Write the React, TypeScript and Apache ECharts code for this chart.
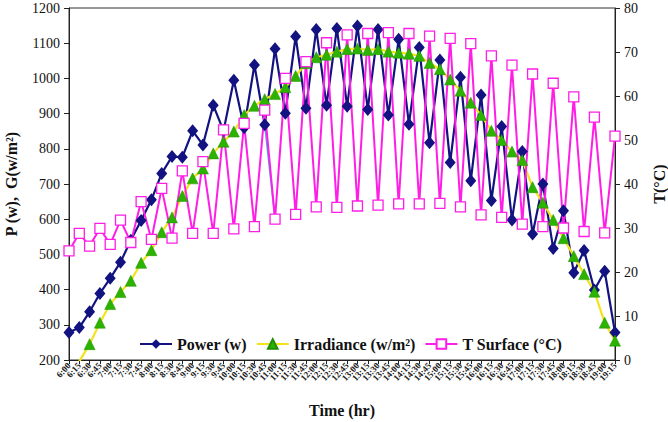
import React, { useEffect, useRef } from "react";
import * as echarts from "echarts";

// Time of day (15-minute readings)
const timeLabels = [
  "6:00", "6:15", "6:30", "6:45", "7:00", "7:15", "7:30", "7:45",
  "8:00", "8:15", "8:30", "8:45", "9:00", "9:15", "9:30", "9:45",
  "10:00", "10:15", "10:30", "10:45", "11:00", "11:15", "11:30", "11:45",
  "12:00", "12:15", "12:30", "12:45", "13:00", "13:15", "13:30", "13:45",
  "14:00", "14:15", "14:30", "14:45", "15:00", "15:15", "15:30", "15:45",
  "16:00", "16:15", "16:30", "16:45", "17:00", "17:15", "17:30", "17:45",
  "18:00", "18:15", "18:30", "18:45", "19:00", "19:15",
];

// Output power (W)
const power = [
  278, 292, 337, 389, 432, 478, 540, 596, 655, 730, 778, 776, 851, 811,
  924, 851, 995, 860, 1038, 868, 1084, 901, 1119, 915, 1139, 924, 1142, 921,
  1149, 912, 1139, 896, 1111, 870, 1088, 817, 1052, 761, 1003, 709, 953, 653,
  863, 598, 792, 558, 700, 517, 624, 448, 511, 399, 452, 278,
];

// Solar irradiance (W/m²)
const irradiance = [
  150, 196, 245, 306, 359, 393, 425, 476, 512, 563, 605, 666, 716, 744,
  787, 820, 849, 896, 922, 941, 956, 975, 1007, 1043, 1060, 1067, 1076, 1083,
  1085, 1081, 1083, 1076, 1073, 1070, 1064, 1044, 1026, 997, 965, 931, 896, 851,
  825, 792, 768, 691, 647, 598, 546, 495, 444, 394, 306, 255,
];

// Panel surface temperature (°C)
const surfaceTemp = [
  24.8, 28.8, 25.9, 29.9, 26.3, 31.8, 26.7, 36.0, 27.4, 39.0, 27.7, 43.0,
  28.8, 45.1, 28.8, 52.3, 29.8, 53.8, 30.3, 56.8, 32.0, 64.0, 33.1, 67.8,
  34.8, 72.1, 34.7, 73.9, 35.0, 74.2, 35.2, 74.4, 35.5, 74.2, 35.5, 73.6,
  35.6, 73.1, 34.8, 71.9, 33.0, 69.1, 32.4, 67.0, 30.9, 65.0, 30.3, 62.9,
  30.0, 59.8, 29.2, 55.2, 28.9, 50.9,
];

// Stray trace segment between 10:45 and 11:00
const strayTrace = timeLabels.map((_, i) => (i === 19 ? 868 : i === 20 ? 600 : null));

const SERIF = "'Liberation Serif', 'DejaVu Serif', serif";

const plain = (v: number) => String(v);

export default function App() {
  const ref = useRef<HTMLDivElement>(null);

  useEffect(() => {
    if (!ref.current) return;
    const chart = echarts.init(ref.current, null, { renderer: "svg" });
    chart.setOption({
      animation: false,
      backgroundColor: "#ffffff",
      grid: {
        left: 69,
        right: 53,
        top: 8,
        bottom: 62,
        outerBoundsMode: "none",
        containLabel: false,
        show: true,
        borderColor: "#333",
        borderWidth: 1,
        backgroundColor: "transparent",
      },
      legend: {
        left: 134,
        top: 331,
        itemWidth: 32,
        itemHeight: 12,
        itemGap: 9,
        textStyle: {
          fontFamily: SERIF,
          fontWeight: "bold",
          fontSize: 16,
          color: "#111",
        },
        data: ["Power (w)", "Irradiance (w/m²)", "T Surface (°C)"],
      },
      xAxis: {
        type: "category",
        data: timeLabels,
        boundaryGap: false,
        name: "Time (hr)",
        nameLocation: "middle",
        nameGap: 42,
        nameTextStyle: {
          fontFamily: SERIF,
          fontWeight: "bold",
          fontSize: 16,
          color: "#111",
        },
        axisLine: { lineStyle: { color: "#222", width: 1 } },
        axisTick: { alignWithLabel: true, length: 4, lineStyle: { color: "#222" } },
        axisLabel: {
          interval: 0,
          rotate: 48,
          fontSize: 9,
          fontWeight: "bold",
          fontFamily: SERIF,
          color: "#222",
          margin: 4,
        },
        splitLine: { show: false },
      },
      yAxis: [
        {
          type: "value",
          min: 200,
          max: 1200,
          interval: 100,
          name: "P (w),  G(w/m²)",
          nameLocation: "middle",
          nameGap: 50,
          nameRotate: 90,
          nameTextStyle: {
            fontFamily: SERIF,
            fontWeight: "bold",
            fontSize: 16,
            color: "#111",
          },
          axisLine: { show: true, lineStyle: { color: "#222" } },
          axisTick: { show: true, length: 5, lineStyle: { color: "#222" } },
          axisLabel: {
            fontFamily: SERIF,
            fontSize: 14,
            color: "#111",
            margin: 9,
            formatter: plain,
          },
          splitLine: { show: false },
        },
        {
          type: "value",
          min: 0,
          max: 80,
          interval: 10,
          position: "right",
          name: "T(°C)",
          nameLocation: "middle",
          nameGap: 36,
          nameRotate: 90,
          nameTextStyle: {
            fontFamily: SERIF,
            fontWeight: "bold",
            fontSize: 16,
            color: "#111",
          },
          axisLine: { show: true, lineStyle: { color: "#222" } },
          axisTick: { show: true, length: 5, lineStyle: { color: "#222" } },
          axisLabel: {
            fontFamily: SERIF,
            fontSize: 14,
            color: "#111",
            margin: 9,
            formatter: plain,
          },
          splitLine: { show: false },
        },
      ],
      series: [
        {
          name: "Power (w)",
          type: "line",
          yAxisIndex: 0,
          data: power,
          symbol: "diamond",
          symbolSize: [11, 13],
          lineStyle: { color: "#121280", width: 2.2 },
          itemStyle: { color: "#121280" },
        },
        {
          name: "stray",
          type: "line",
          yAxisIndex: 0,
          data: strayTrace,
          symbol: "none",
          silent: true,
          lineStyle: { color: "#33b5e5", width: 1.6 },
        },
        {
          name: "Irradiance (w/m²)",
          type: "line",
          yAxisIndex: 0,
          data: irradiance,
          symbol: "triangle",
          symbolSize: 11,
          lineStyle: { color: "#f2e41c", width: 2.2 },
          itemStyle: { color: "#2cb300", borderColor: "#1f8f00", borderWidth: 0.5 },
        },
        {
          name: "T Surface (°C)",
          type: "line",
          yAxisIndex: 1,
          data: surfaceTemp,
          symbol: "rect",
          symbolSize: 10,
          lineStyle: { color: "#ff1ee6", width: 2 },
          itemStyle: { color: "#ffffff", borderColor: "#ff1ee6", borderWidth: 1.3 },
        },
      ],
    });
    return () => chart.dispose();
  }, []);

  return (
    <div
      ref={ref}
      style={{ position: "fixed", left: 0, top: 0, width: 668, height: 422 }}
    />
  );
}
